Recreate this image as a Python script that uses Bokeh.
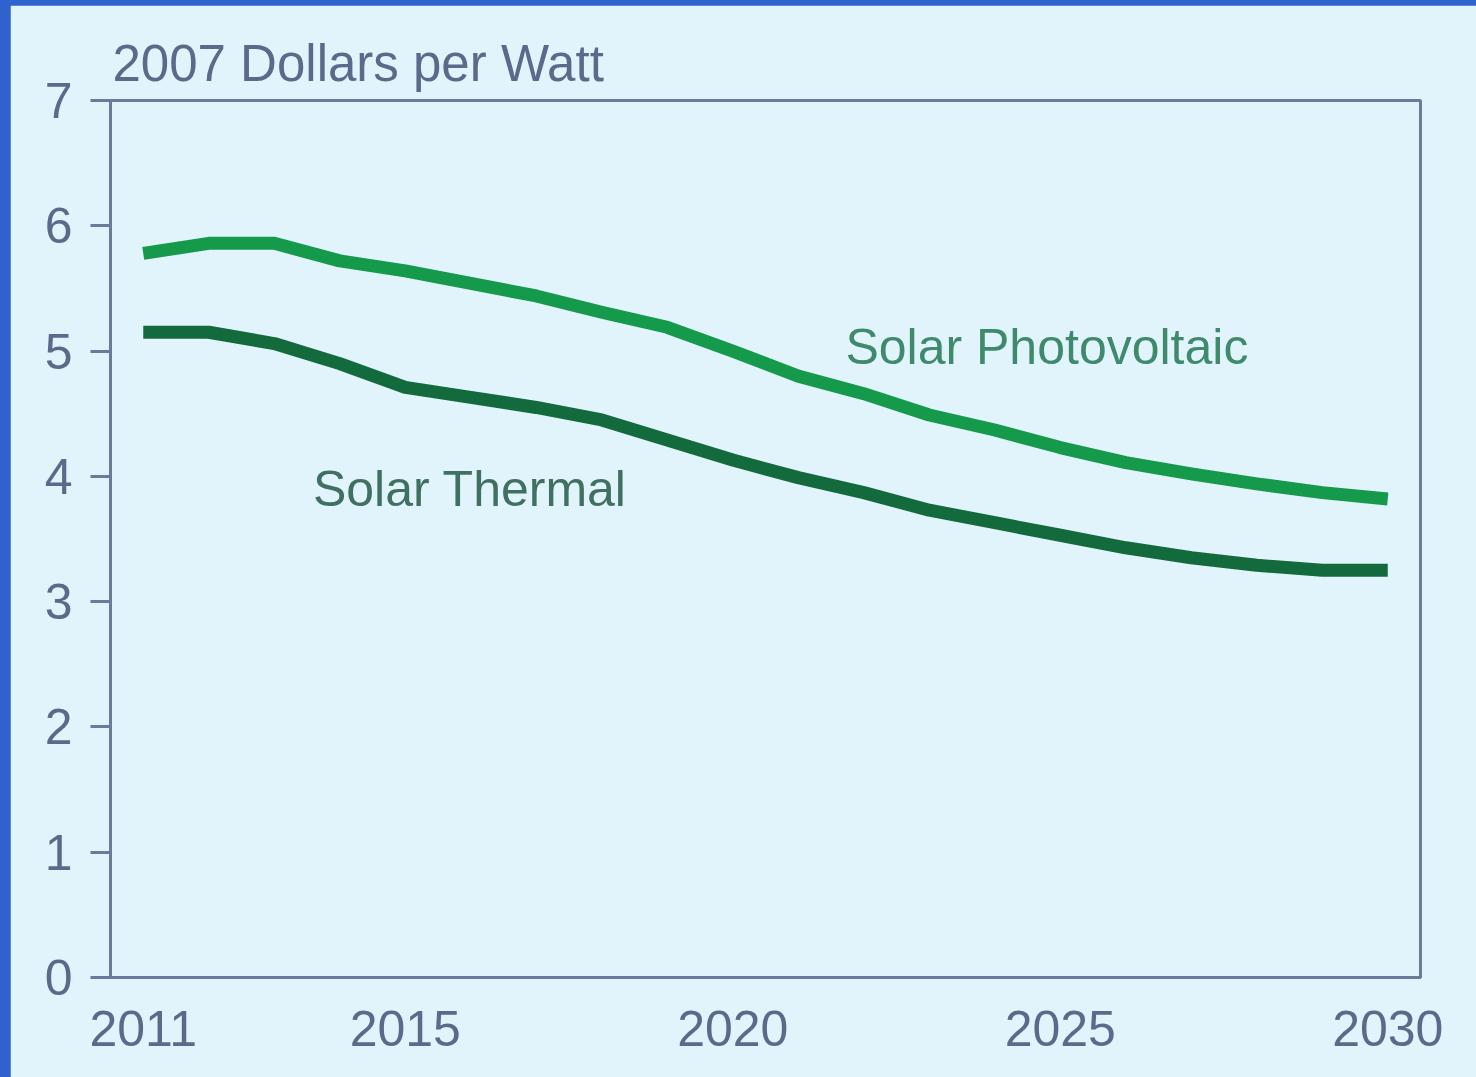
from bokeh.plotting import figure
from bokeh.models import Range1d, FixedTicker, Label
from bokeh.layouts import column
from bokeh.embed import file_html
from bokeh.resources import INLINE

years = list(range(2011, 2031))
photovoltaic = [5.78, 5.86, 5.86, 5.72, 5.64, 5.54, 5.44, 5.31, 5.19, 5.00,
                4.80, 4.66, 4.49, 4.37, 4.23, 4.11, 4.02, 3.94, 3.87, 3.82]
thermal = [5.15, 5.15, 5.06, 4.90, 4.71, 4.63, 4.55, 4.45, 4.29, 4.13,
           3.99, 3.87, 3.73, 3.63, 3.53, 3.43, 3.35, 3.29, 3.25, 3.25]
x_ticks = [2011, 2015, 2020, 2025, 2030]
y_ticks = [0, 1, 2, 3, 4, 5, 6, 7]
unit_label = "2007 Dollars per Watt"
pv_name = "Solar Photovoltaic"
thermal_name = "Solar Thermal"

BG = "#e1f4fc"
AXIS = "#6b7a9a"
TEXT = "#5a6a8a"
FONT = "Liberation Sans"

p = figure(width=1466, height=1072, output_backend="svg", toolbar_location=None,
           x_range=Range1d(2010.5, 2030.5), y_range=Range1d(0, 7),
           min_border_left=100, min_border_right=56, min_border_top=95,
           min_border_bottom=100, title=unit_label)
p.background_fill_color = BG
p.border_fill_color = BG
p.outline_line_color = AXIS
p.outline_line_width = 3
p.grid.visible = False

p.title.align = "left"
p.title.offset = 2
p.title.standoff = 18
p.title.text_font = FONT
p.title.text_font_size = "51px"
p.title.text_font_style = "normal"
p.title.text_color = TEXT

p.xaxis.ticker = FixedTicker(ticks=x_ticks)
p.yaxis.ticker = FixedTicker(ticks=y_ticks)
for ax in (p.xaxis, p.yaxis):
    ax.axis_line_color = AXIS
    ax.axis_line_width = 3
    ax.major_tick_line_color = AXIS
    ax.major_tick_line_width = 3
    ax.minor_tick_line_color = None
    ax.major_tick_in = 0
    ax.major_label_text_font = FONT
    ax.major_label_text_font_size = "50px"
    ax.major_label_text_color = TEXT
p.xaxis.major_tick_out = 0
p.xaxis.major_label_standoff = 33
p.yaxis.major_tick_out = 20
p.yaxis.major_label_standoff = 18

p.line(years, photovoltaic, line_color="#15994b", line_width=13, line_cap="butt", line_join="round")
p.line(years, thermal, line_color="#136a3c", line_width=13, line_cap="butt", line_join="round")

p.add_layout(Label(x=2021.72, y=5.03, text=pv_name, text_font=FONT, text_font_size="50px",
                   text_color="#3f8a6c", text_baseline="middle", text_align="left"))
p.add_layout(Label(x=2013.59, y=3.90, text=thermal_name, text_font=FONT, text_font_size="50px",
                   text_color="#3f7062", text_baseline="middle", text_align="left"))

layout = column(p, styles={"background-color": "#2f62cc", "padding-left": "10px",
                           "padding-top": "5px"})

open("out.html", "w").write(file_html(layout, INLINE))
